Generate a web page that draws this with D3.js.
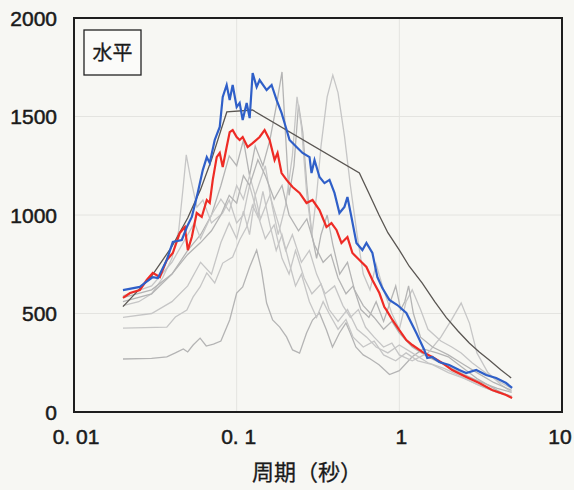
<!DOCTYPE html>
<html>
<head>
<meta charset="utf-8">
<script src="https://cdn.jsdelivr.net/npm/d3@7/dist/d3.min.js"></script>
<style>
  body { margin: 0; background: #f7f7f3; }
  svg { display: block; }
</style>
</head>
<body>
<div id="chart"></div>
<script>
/**
 * DATA  (period in seconds, response value)
 * */
const yTicks = [0, 500, 1000, 1500, 2000];
const xTicks = [0.01, 0.1, 1, 10];
const xTickLabels = ["0. 01", "0. 1", "1", "10"];
const panelLabel = "水平";
const xTitle = "周期（秒）";

// design spectrum (dark gray)
const designLine = [[0.02,535],[0.03,690],[0.04,840],[0.05,985],[0.06,1130],[0.07,1280],[0.08,1430],[0.087,1523],
  [0.125,1533],[0.568,1213],[0.65,1110],[0.75,1000],[0.85,910],[1.0,822],[1.15,740],[1.38,655],[1.65,560],
  [1.94,480],[2.3,410],[2.69,350],[3.1,305],[3.57,264],[4.2,215],[4.87,173]];

// blue record
const blueSeries = [[0.020,619],[0.0254,635],[0.0273,655],[0.0305,685],[0.0328,680],[0.0372,772],[0.0405,863],
  [0.046,873],[0.0494,939],[0.053,990],[0.0576,1112],[0.0619,1228],[0.0655,1294],[0.0683,1264],[0.0733,1381],
  [0.0787,1447],[0.0821,1599],[0.0868,1660],[0.0906,1584],[0.0945,1660],[0.100,1548],[0.1043,1569],[0.1089,1482],
  [0.1152,1569],[0.1202,1492],[0.1254,1721],[0.1327,1650],[0.1384,1685],[0.1528,1634],[0.164,1660],[0.1759,1584],
  [0.1888,1518],[0.197,1467],[0.2114,1381],[0.2334,1345],[0.2541,1315],[0.2805,1294],[0.2885,1213],[0.301,1279],
  [0.323,1193],[0.3466,1162],[0.3721,1178],[0.3993,1112],[0.4284,1010],[0.4598,1041],[0.4797,1091],[0.5076,990],
  [0.5448,858],[0.5929,822],[0.6275,858],[0.6831,807],[0.7328,685],[0.7865,629],[0.8685,569],[0.972,543],
  [1.104,503],[1.272,401],[1.424,315],[1.485,274],[1.594,279],[1.76,254],[2.026,239],[2.334,213],[2.577,198],
  [2.969,213],[3.418,188],[3.937,173],[4.533,147],[4.935,122]];

// red record
const redSeries = [[0.020,579],[0.0221,604],[0.0254,619],[0.028,670],[0.0305,706],[0.0337,685],[0.0372,772],
  [0.0405,807],[0.0447,909],[0.048,939],[0.0501,822],[0.053,888],[0.0568,1010],[0.061,990],[0.0655,1076],
  [0.0683,1061],[0.0713,1178],[0.0754,1294],[0.0787,1315],[0.0821,1244],[0.0868,1345],[0.0906,1421],[0.0945,1431],
  [0.100,1396],[0.1043,1381],[0.1089,1396],[0.1168,1345],[0.1254,1365],[0.1384,1396],[0.1485,1431],[0.1594,1381],
  [0.1711,1279],[0.1784,1315],[0.1888,1213],[0.2026,1178],[0.2206,1142],[0.2436,1112],[0.2689,1061],[0.2926,1076],
  [0.323,1025],[0.3565,939],[0.3826,959],[0.4107,924],[0.4407,858],[0.4797,888],[0.5148,807],[0.5684,772],
  [0.6275,736],[0.6831,670],[0.7537,604],[0.8091,533],[0.8322,518],[0.906,467],[1.0,416],[1.104,365],[1.202,340],
  [1.384,305],[1.594,279],[1.835,249],[2.114,213],[2.577,178],[3.097,147],[3.721,112],[4.533,86],[4.935,71]];

// other records (light gray)
const grayA = [[0.02,269],[0.03,272],[0.0372,280],[0.042,300],[0.047,320],[0.05,305],[0.054,340],[0.0596,375],
  [0.065,335],[0.072,345],[0.08,360],[0.0906,467],[0.1,604],[0.1089,635],[0.1202,736],[0.1327,822],[0.142,721],
  [0.1528,553],[0.1664,467],[0.184,431],[0.2026,381],[0.2206,315],[0.2436,299],[0.2689,401],[0.2926,467],
  [0.323,503],[0.3565,416],[0.3881,330],[0.4284,401],[0.47,452],[0.5,400],[0.54,330],[0.6,290],[0.66,270],
  [0.75,240],[0.87,190],[1.0,210],[1.2,280],[1.4,320],[1.7,300],[2.0,280],[2.5,220],[3.0,170],[4.0,110],[4.9,75]];
const grayB = [[0.02,426],[0.0372,431],[0.042,482],[0.0494,518],[0.054,584],[0.0596,635],[0.0655,706],[0.0733,655],
  [0.0821,756],[0.0945,787],[0.1043,873],[0.1152,939],[0.125,1050],[0.135,990],[0.145,1120],[0.16,950],[0.175,820],
  [0.19,900],[0.21,760],[0.23,640],[0.25,700],[0.28,560],[0.31,480],[0.34,560],[0.37,500],[0.42,420],[0.47,470],
  [0.52,380],[0.6,330],[0.7,360],[0.8,290],[0.95,260],[1.1,300],[1.3,260],[1.6,240],[2.0,200],[2.5,170],[3.2,130],
  [4.0,100],[4.9,80]];
const grayC = [[0.02,540],[0.025,560],[0.03,600],[0.035,680],[0.04,780],[0.044,920],[0.047,1150],[0.049,1305],
  [0.052,1190],[0.057,1040],[0.062,1076],[0.07,960],[0.082,1010],[0.09,1076],[0.1,960],[0.11,1000],[0.12,1150],
  [0.135,1000],[0.15,880],[0.17,950],[0.19,780],[0.21,700],[0.23,820],[0.26,680],[0.29,600],[0.33,650],[0.37,520],
  [0.42,460],[0.48,520],[0.55,420],[0.63,380],[0.72,330],[0.85,300],[1.0,340],[1.2,300],[1.5,250],[1.9,220],
  [2.4,180],[3.0,140],[4.0,100],[4.9,80]];
const grayD = [[0.02,560],[0.03,600],[0.04,700],[0.05,820],[0.06,900],[0.07,1000],[0.08,1150],[0.09,1300],[0.1,1250],
  [0.11,1380],[0.12,1200],[0.13,1350],[0.145,1250],[0.16,1380],[0.175,1550],[0.19,1726],[0.2,1400],[0.21,1100],
  [0.225,1250],[0.24,1560],[0.255,1420],[0.27,1150],[0.29,900],[0.31,780],[0.33,900],[0.36,1000],[0.39,850],
  [0.43,700],[0.48,760],[0.53,620],[0.6,540],[0.7,480],[0.8,420],[0.9,460],[1.0,400],[1.2,330],[1.5,280],[2.0,230],
  [2.5,190],[3.2,150],[4.0,120],[4.9,100]];
const grayE = [[0.02,480],[0.03,500],[0.04,560],[0.05,640],[0.06,760],[0.07,700],[0.08,860],[0.09,960],[0.1,880],
  [0.11,1020],[0.12,900],[0.13,1100],[0.15,1250],[0.165,1050],[0.18,900],[0.2,1050],[0.22,1300],[0.235,1600],
  [0.25,1450],[0.27,1100],[0.29,900],[0.31,1100],[0.33,1350],[0.36,1600],[0.39,1710],[0.42,1620],[0.46,1400],
  [0.5,1150],[0.55,900],[0.6,700],[0.66,620],[0.72,750],[0.8,620],[0.9,500],[1.0,420],[1.1,560],[1.2,620],
  [1.35,520],[1.5,420],[1.8,360],[2.1,330],[2.4,300],[2.8,250],[3.5,190],[4.2,150],[4.9,120]];
const grayF = [[0.02,590],[0.03,640],[0.04,760],[0.05,900],[0.055,960],[0.06,880],[0.07,1000],[0.08,1080],[0.09,1020],
  [0.1,1150],[0.11,1080],[0.12,1200],[0.13,1100],[0.14,980],[0.16,1100],[0.18,960],[0.2,820],[0.22,900],[0.25,760],
  [0.28,820],[0.31,700],[0.35,600],[0.4,640],[0.45,540],[0.5,480],[0.56,520],[0.62,430],[0.7,380],[0.8,330],
  [0.9,350],[1.0,290],[1.2,260],[1.5,300],[1.8,380],[2.1,470],[2.4,553],[2.7,450],[3.0,300],[3.5,200],[4.2,140],[4.9,100]];
const grayG = [[0.02,580],[0.03,620],[0.04,700],[0.05,800],[0.06,860],[0.07,920],[0.08,1000],[0.09,1100],[0.1,1060],
  [0.11,1200],[0.12,1150],[0.135,1280],[0.15,1200],[0.17,1080],[0.19,1150],[0.21,1000],[0.24,920],[0.27,980],
  [0.3,850],[0.34,760],[0.38,800],[0.42,680],[0.47,600],[0.52,640],[0.58,520],[0.65,480],[0.72,560],[0.8,460],
  [0.88,560],[0.95,640],[1.02,520],[1.08,560],[1.14,640],[1.22,500],[1.35,380],[1.6,330],[2.0,290],[2.5,240],
  [3.0,200],[3.8,150],[4.9,110]];

const grayRecords = [grayA, grayB, grayC, grayD, grayE, grayF, grayG];

/**
 * LAYOUT
 * */
const width = 574, height = 490;
const margin = { top: 18, right: 12, bottom: 78, left: 74 };

const svg = d3.select("#chart").append("svg")
  .attr("width", width)
  .attr("height", height);

const x = d3.scaleLog().domain([0.01, 10]).range([margin.left, width - margin.right]);
const y = d3.scaleLinear().domain([0, 2000]).range([height - margin.bottom, margin.top]);

// faint gridlines
svg.append("g")
  .selectAll("line.hgrid")
  .data(yTicks.slice(1, -1))
  .join("line")
  .attr("x1", x(0.01)).attr("x2", x(10))
  .attr("y1", d => y(d)).attr("y2", d => y(d))
  .attr("stroke", "#e4e4e0").attr("stroke-width", 1);
svg.append("g")
  .selectAll("line.vgrid")
  .data(xTicks.slice(1, -1))
  .join("line")
  .attr("x1", d => x(d)).attr("x2", d => x(d))
  .attr("y1", y(0)).attr("y2", y(2000))
  .attr("stroke", "#e4e4e0").attr("stroke-width", 1);

const line = d3.line().x(d => x(d[0])).y(d => y(d[1]));

// gray records
svg.append("g")
  .selectAll("path")
  .data(grayRecords)
  .join("path")
  .attr("d", line)
  .attr("fill", "none")
  .attr("stroke", (d, i) => i % 3 === 0 ? "#b4b4b4" : "#c6c6c6")
  .attr("stroke-width", 1.3);

// design spectrum
svg.append("path")
  .datum(designLine)
  .attr("d", line)
  .attr("fill", "none")
  .attr("stroke", "#5a5652")
  .attr("stroke-width", 1.3);

svg.append("path")
  .datum(redSeries)
  .attr("d", line)
  .attr("fill", "none")
  .attr("stroke", "#ee2b25")
  .attr("stroke-width", 2.2);

svg.append("path")
  .datum(blueSeries)
  .attr("d", line)
  .attr("fill", "none")
  .attr("stroke", "#2f5fc8")
  .attr("stroke-width", 2.2);

// frame
svg.append("rect")
  .attr("x", x(0.01)).attr("y", y(2000))
  .attr("width", x(10) - x(0.01)).attr("height", y(0) - y(2000))
  .attr("fill", "none").attr("stroke", "#1e1e1e").attr("stroke-width", 2);

// y tick labels
svg.append("g")
  .selectAll("text")
  .data(yTicks)
  .join("text")
  .attr("x", 57)
  .attr("y", d => y(d))
  .attr("dy", "0.36em")
  .attr("text-anchor", "end")
  .attr("font-family", "'Liberation Sans', Arial, sans-serif")
  .attr("font-size", 21)
  .attr("fill", "#1a1a1a")
  .attr("stroke", "#1a1a1a").attr("stroke-width", 0.5)
  .text(d => d);

// x tick labels
svg.append("g")
  .selectAll("text")
  .data(xTicks)
  .join("text")
  .attr("x", (d, i) => i === xTicks.length - 1 ? x(d) - 2 : x(d) + 2)
  .attr("y", 444)
  .attr("text-anchor", "middle")
  .attr("font-family", "'Liberation Sans', Arial, sans-serif")
  .attr("font-size", 21)
  .attr("fill", "#1a1a1a")
  .attr("stroke", "#1a1a1a").attr("stroke-width", 0.5)
  .text((d, i) => xTickLabels[i]);

// x axis title
svg.append("text")
  .attr("x", 307)
  .attr("y", 480)
  .attr("text-anchor", "middle")
  .attr("font-family", "'Noto Sans CJK JP', sans-serif")
  .attr("font-size", 22)
  .attr("fill", "#1a1a1a")
  .attr("stroke", "#1a1a1a").attr("stroke-width", 0.3)
  .text(xTitle);

// panel label box
svg.append("rect")
  .attr("x", 84).attr("y", 30).attr("width", 57).attr("height", 45)
  .attr("fill", "#fbfbf9").attr("stroke", "#222").attr("stroke-width", 1.3);
svg.append("text")
  .attr("x", 112.5).attr("y", 60)
  .attr("text-anchor", "middle")
  .attr("font-family", "'Noto Sans CJK JP', sans-serif")
  .attr("font-size", 20)
  .attr("fill", "#1a1a1a")
  .attr("stroke", "#1a1a1a").attr("stroke-width", 0.3)
  .text(panelLabel);
</script>
</body>
</html>
